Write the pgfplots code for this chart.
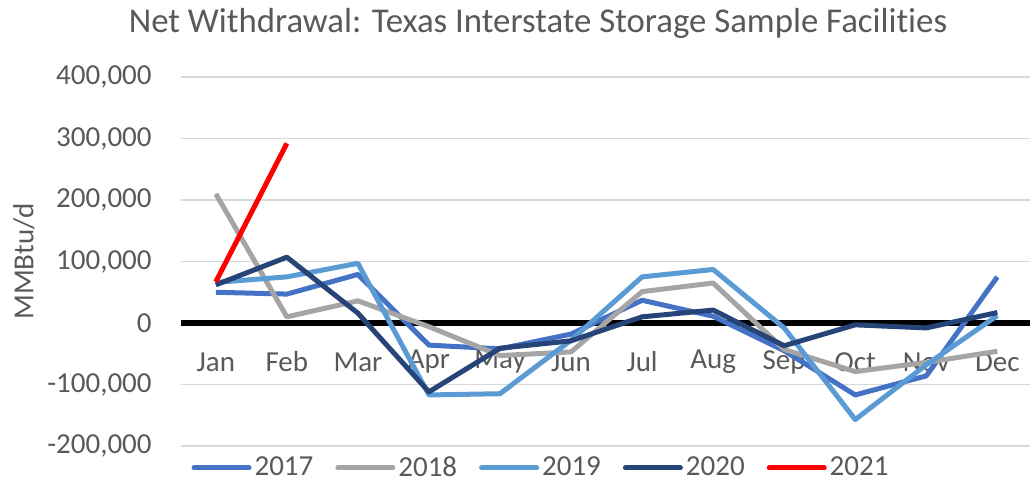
\documentclass[border=0pt]{standalone}
\usepackage{pgfplots}
\pgfplotsset{compat=1.18}
\usepackage{fontspec}
\setmainfont{Carlito}[Ligatures=NoCommon]

\definecolor{txt}{HTML}{595959}
\definecolor{gridc}{HTML}{D9D9D9}
\definecolor{c17}{HTML}{4472C4}
\definecolor{c18}{HTML}{A5A5A5}
\definecolor{c19}{HTML}{5B9BD5}
\definecolor{c20}{HTML}{264478}
\definecolor{c21}{HTML}{FF0000}

\begin{document}
\begin{tikzpicture}
  \begin{axis}[
      at={(0,0)}, anchor=south west,
      scale only axis, width=424.5pt, height=184.5pt,
      xmin=-0.49, xmax=11.46, ymin=-200000, ymax=400000,
      axis x line=middle, axis y line=left,
      x axis line style={line width=3.25pt, black, -},
      y axis line style={draw=none},
      major tick length=0pt,
      xtick={0,...,11},
      xticklabels={Jan,Feb,Mar,Apr,May,Jun,Jul,Aug,Sep,Oct,Nov,Dec},
      xticklabel style={anchor=center, yshift=-19.5pt},
      ytick={-200000,-100000,...,400000},
      scaled y ticks=false,
      yticklabel style={inner sep=0pt, anchor=east, xshift=-14.5pt,
        /pgf/number format/.cd, fixed, 1000 sep={,}, assume math mode=true},
      tick label style={font=\fontsize{14.5}{17}\selectfont, text=txt},
      ymajorgrids, grid style={gridc, line width=0.75pt},
      every axis plot/.append style={line width=2.5pt, line join=round},
      legend style={at={(0.4229,-0.0596)}, anchor=center, draw=none, fill=none,
        legend columns=5, font=\fontsize{14.5}{17}\selectfont, text=txt,
        nodes={inner sep=0pt},
        /tikz/every odd column/.append style={column sep=1.5pt},
        /tikz/every even column/.append style={column sep=11pt}},
      legend image code/.code={\draw[line width=2.5pt, line cap=round, #1] (0pt,0pt) -- (27.5pt,0pt);},
    ]
    \addplot[c17] coordinates {(0,50000) (1,47000) (2,79000) (3,-36000) (4,-42000) (5,-18000) (6,37000) (7,11000) (8,-45000) (9,-117000) (10,-86000) (11,75000)};
    \addlegendentry{2017}
    \addplot[c18] coordinates {(0,210000) (1,10000) (2,36000) (3,-6000) (4,-53000) (5,-47000) (6,51000) (7,65000) (8,-43000) (9,-79000) (10,-64000) (11,-46000)};
    \addlegendentry{2018}
    \addplot[c19] coordinates {(0,66000) (1,75000) (2,97000) (3,-117000) (4,-115000) (5,-28000) (6,75000) (7,87000) (8,-8000) (9,-157000) (10,-68000) (11,12000)};
    \addlegendentry{2019}
    \addplot[c20] coordinates {(0,62000) (1,107000) (2,16000) (3,-112000) (4,-41000) (5,-29000) (6,10000) (7,21000) (8,-37000) (9,-3000) (10,-8000) (11,17000)};
    \addlegendentry{2020}
    \addplot[c21] coordinates {(0,67000) (1,292000)};
    \addlegendentry{2021}
  \end{axis}
  \node[anchor=base, text=txt, font=\fontsize{17.4}{20}\selectfont] at (178.5pt,206.5pt)
    {Net Withdrawal: Texas Interstate Storage Sample Facilities};
  \node[rotate=90, text=txt, font=\fontsize{14.5}{17}\selectfont] at (-78.5pt,92.25pt) {MMBtu/d};
  \pgfresetboundingbox
  \path[use as bounding box] (-90.5pt,-18pt) rectangle (424.5pt,223pt);
\end{tikzpicture}
\end{document}
